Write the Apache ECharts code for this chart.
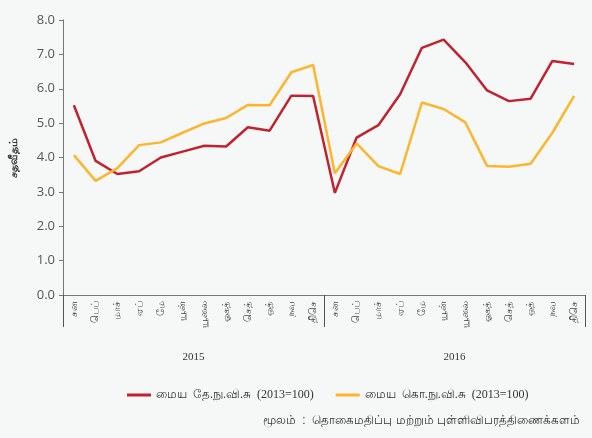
<!DOCTYPE html>
<html>
<head>
<meta charset="utf-8">
<script src="https://cdn.jsdelivr.net/npm/echarts@6/dist/echarts.min.js"></script>
<style>
  html, body { margin: 0; padding: 0; background: #f6f8f8; }
  #chart { width: 592px; height: 438px; }
</style>
</head>
<body>
<div id="chart"></div>
<script>
let months = ['சன', 'பெப்', 'மாச்', 'ஏப்', 'மே', 'யூன்', 'யூலை', 'ஓகத்', 'செத்', 'ஒத்', 'நவ', 'திசெ'];
let years = ['2015', '2016'];
let categories = months.concat(months);

let ccpiName = 'மைய  தே.நு.வி.சு  (2013=100)';
let ccpiValues = [5.52, 3.90, 3.52, 3.60, 4.00, 4.17, 4.34, 4.32, 4.88, 4.78, 5.80, 5.79,
                  2.97, 4.58, 4.94, 5.84, 7.19, 7.43, 6.77, 5.95, 5.64, 5.71, 6.81, 6.72];

let colomboName = 'மைய  கொ.நு.வி.சு  (2013=100)';
let colomboValues = [4.07, 3.32, 3.69, 4.36, 4.44, 4.72, 4.99, 5.15, 5.53, 5.52, 6.48, 6.69,
                     3.54, 4.41, 3.75, 3.52, 5.60, 5.41, 5.02, 3.75, 3.73, 3.82, 4.72, 5.79];

let sourceText = 'மூலம்  :  தொகைமதிப்பு மற்றும் புள்ளிவிபரத்திணைக்களம்';

let chart = echarts.init(document.getElementById('chart'));

let option = {
    backgroundColor: '#f6f8f8',
    animation: false,
    color: ['#c0232f', '#fdb52e'],
    grid: {
        left: 62,
        right: 7,
        top: 20,
        bottom: 143
    },
    legend: {
        left: 122,
        top: 384,
        itemWidth: 24,
        itemHeight: 3,
        itemGap: 22,
        icon: 'rect',
        textStyle: {
            fontFamily: 'Liberation Serif',
            fontSize: 12,
            color: '#333'
        },
        data: [ccpiName, colomboName]
    },
    xAxis: [{
        type: 'category',
        data: categories,
        boundaryGap: true,
        axisLine: {
            lineStyle: { color: '#777', width: 1 }
        },
        axisTick: { show: false },
        axisLabel: {
            interval: 0,
            rotate: 90,
            margin: 6,
            fontFamily: 'Liberation Serif',
            fontSize: 10,
            color: '#444'
        },
        splitLine: { show: false }
    }, {
        type: 'category',
        data: years,
        position: 'bottom',
        offset: 32,
        boundaryGap: true,
        axisLine: { show: false },
        axisTick: {
            show: true,
            inside: true,
            length: 32,
            interval: 0,
            lineStyle: { color: '#555', width: 1 }
        },
        axisLabel: {
            margin: 25,
            fontFamily: 'Liberation Serif',
            fontSize: 11,
            color: '#333'
        }
    }],
    yAxis: {
        type: 'value',
        min: 0,
        max: 8,
        interval: 1,
        name: 'சதவீதம்',
        nameLocation: 'middle',
        nameRotate: 90,
        nameGap: 44,
        nameTextStyle: {
            fontSize: 11,
            fontWeight: 'bold',
            color: '#333'
        },
        axisLine: {
            show: true,
            lineStyle: { color: '#777', width: 1 }
        },
        axisTick: {
            show: true,
            length: 4,
            lineStyle: { color: '#777' }
        },
        axisLabel: {
            formatter: function (v) { return v.toFixed(1); },
            fontFamily: 'Open Sans',
            fontSize: 13,
            color: '#555',
            margin: 8
        },
        splitLine: { show: false }
    },
    graphic: [{
        type: 'text',
        right: 12,
        top: 415,
        style: {
            text: sourceText,
            fontSize: 12,
            fill: '#333'
        }
    }],
    series: [{
        name: ccpiName,
        type: 'line',
        data: ccpiValues,
        symbol: 'none',
        lineStyle: { width: 2.5 }
    }, {
        name: colomboName,
        type: 'line',
        data: colomboValues,
        symbol: 'none',
        lineStyle: { width: 2.5 }
    }]
};

chart.setOption(option);
</script>
</body>
</html>
